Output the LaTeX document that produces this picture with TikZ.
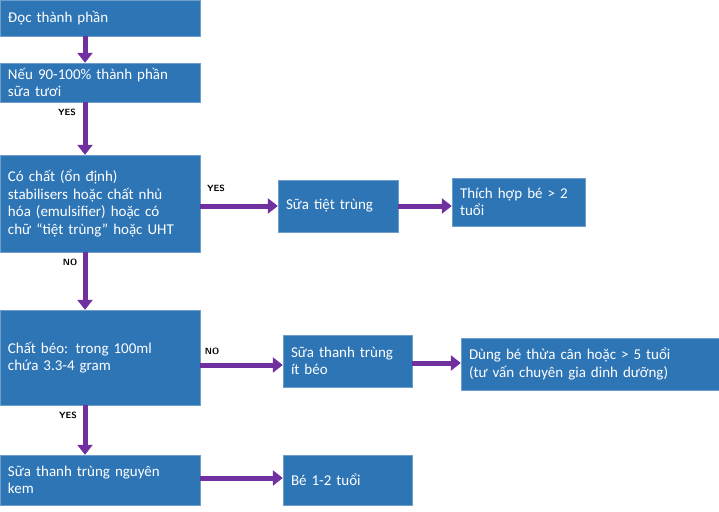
\documentclass[tikz,border=0pt]{standalone}
\usepackage{fontspec}
\setmainfont{Carlito}
\usetikzlibrary{arrows.meta}
\definecolor{boxblue}{HTML}{2E75B6}
\definecolor{arrowpurple}{HTML}{7030A0}
\tikzset{
    x=1pt, y=-1pt,
    box/.style={
        draw=boxblue!70!white,
        fill=boxblue,
        text=white,
        font=\fontsize{15}{17.5}\selectfont,
        align=left,
        inner xsep=8pt,
        inner ysep=3pt
    },
    arr/.style={
        draw=arrowpurple,
        line width=5pt,
        -{Triangle[width=15pt,length=10pt]}
    },
    tag node/.style={font=\sffamily\bfseries\fontsize{9}{10}\selectfont}
}
\begin{document}
\begin{tikzpicture}
    \useasboundingbox (0,0) rectangle (719,511);
    % left column
    \node[box, minimum width=200, minimum height=36, text width=184] (read) at (100,18) {Đọc thành phần};
    \node[box, minimum width=200, minimum height=39, text width=184] (fresh) at (100,82.5) {Nếu 90-100\% thành phần\\sữa tươi};
    \node[box, minimum width=200, minimum height=97, text width=184] (stab) at (100,203.5) {Có chất (ổn định)\\stabilisers hoặc chất nhủ\\hóa (emulsifier) hoặc có\\chữ “tiệt trùng” hoặc UHT};
    \node[box, minimum width=200, minimum height=95, text width=184] (fat) at (100,357.5) {Chất béo: trong 100ml\\chứa 3.3-4 gram};
    \node[box, minimum width=200, minimum height=50, text width=184] (whole) at (100,480) {Sữa thanh trùng nguyên\\kem};
    % right columns
    \node[box, minimum width=120, minimum height=52, text width=104] (uht) at (338,206) {Sữa tiệt trùng};
    \node[box, minimum width=133, minimum height=48, text width=117] (over2) at (518.5,202) {Thích hợp bé > 2\\tuổi};
    \node[box, minimum width=129, minimum height=52, text width=113] (lowfat) at (347.5,361) {Sữa thanh trùng\\ít béo};
    \node[box, minimum width=258, minimum height=52, text width=242] (over5) at (590,364) {Dùng bé thừa cân hoặc > 5 tuổi\\(tư vấn chuyên gia dinh dưỡng)};
    \node[box, minimum width=129, minimum height=50, text width=113] (age12) at (347.5,480) {Bé 1-2 tuổi};

    % labels
    \node[tag node] (yes1) at (67,112) {YES};
    \node[tag node] (yes2) at (216,188) {YES};
    \node[tag node] (no1) at (70,262) {NO};
    \node[tag node] (no2) at (212,351) {NO};
    \node[tag node] (yes3) at (68,415) {YES};

    % arrows
    \draw[arr] ([xshift=-15pt]read.south) -- ([xshift=-15pt]fresh.north);
    \draw[arr] ([xshift=-15pt]fresh.south) -- ([xshift=-15pt]stab.north);
    \draw[arr] ([xshift=-15pt]stab.south) -- ([xshift=-15pt]fat.north);
    \draw[arr] ([xshift=-15pt]fat.south) -- ([xshift=-15pt]whole.north);
    \draw[arr] (stab.east |- uht.west) -- (uht.west);
    \draw[arr] (uht.east) -- (uht.east -| over2.west);
    \draw[arr] (fat.east |- 0,365) -- (lowfat.west |- 0,365);
    \draw[arr] (lowfat.east |- 0,363) -- (over5.west |- 0,363);
    \draw[arr] (whole.east |- 0,478) -- (age12.west |- 0,478);
\end{tikzpicture}
\end{document}
